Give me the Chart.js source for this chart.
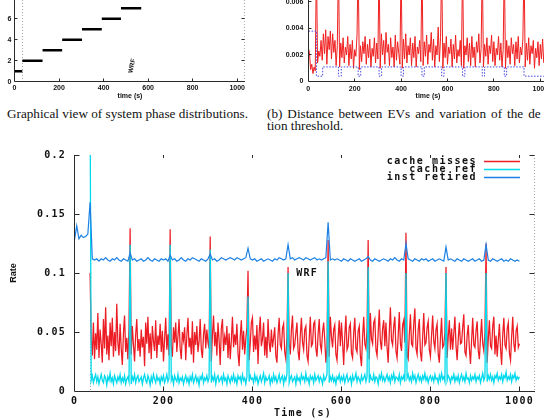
<!DOCTYPE html>
<html>
<head>
<meta charset="utf-8">
<script src="https://cdn.jsdelivr.net/npm/chart.js@4.4.1/dist/chart.umd.min.js"></script>
<style>
  html, body { margin: 0; padding: 0; background: #fff; }
  body { width: 544px; height: 419px; overflow: hidden; position: relative; }
  .box { position: absolute; }
  .cap { position: absolute; font-family: "Liberation Serif", "DejaVu Serif", serif; font-size: 13.2px; line-height: 12.5px; white-space: nowrap; color: #111; }
</style>
</head>
<body>
<div class="box" style="left:0;top:0;width:272px;height:105px"><canvas id="phaseChart"></canvas></div>
<div class="box" style="left:272px;top:0;width:290px;height:105px"><canvas id="distChart"></canvas></div>
<div class="box" style="left:0;top:140px;width:544px;height:279px"><canvas id="rateChart"></canvas></div>
<div class="cap" style="left:7px;top:107.5px">Graphical view of system phase distributions.</div>
<div class="cap" style="left:267px;top:107.5px"><span style="word-spacing:1.7px">(b) Distance between EVs and variation of the de</span><br>tion threshold.</div>

<script>
// seconds between two samples
const fineStep = 2.5;   // cache misses / cache ref
const coarseStep = 5;   // inst retired, EV distance

// (a) system phases
const phaseStart = [0, 35, 126, 214, 303, 392, 478, 569, 661, 746, 836, 924];
const phaseEnd   = [35, 126, 214, 303, 392, 478, 569, 661, 746, 836, 924, 1000];
const phaseLevel = [1, 2, 3, 4, 5, 6, 7, 8, 9, 10, 11, 12];

// (b) distance between EVs, t = 0..1015
const evDistance = [
  0.0025, 0.0022, 0.0009, 0.0013, 0.0006, 0.0011, 0.0008, 0.0090, 0.0014, 0.0023,
  0.0019, 0.0031, 0.0016, 0.0036, 0.0021, 0.0039, 0.0013, 0.0034, 0.0024, 0.0038,
  0.0017, 0.0036, 0.0022, 0.0031, 0.0012, 0.0027, 0.0090, 0.0011, 0.0029, 0.0018,
  0.0033, 0.0014, 0.0026, 0.0020, 0.0034, 0.0012, 0.0028, 0.0017, 0.0031, 0.0010,
  0.0024, 0.0019, 0.0035, 0.0090, 0.0009, 0.0027, 0.0015, 0.0030, 0.0021, 0.0034,
  0.0013, 0.0028, 0.0018, 0.0032, 0.0011, 0.0025, 0.0019, 0.0033, 0.0014, 0.0029,
  0.0017, 0.0090, 0.0010, 0.0036, 0.0020, 0.0031, 0.0013, 0.0037, 0.0022, 0.0028,
  0.0012, 0.0033, 0.0018, 0.0026, 0.0011, 0.0035, 0.0016, 0.0030, 0.0021, 0.0013,
  0.0090, 0.0010, 0.0032, 0.0017, 0.0036, 0.0014, 0.0027, 0.0020, 0.0033, 0.0012,
  0.0029, 0.0018, 0.0034, 0.0011, 0.0026, 0.0021, 0.0031, 0.0015, 0.0090, 0.0012,
  0.0030, 0.0019, 0.0035, 0.0013, 0.0028, 0.0022, 0.0037, 0.0016, 0.0032, 0.0011,
  0.0027, 0.0020, 0.0041, 0.0015, 0.0033, 0.0090, 0.0010, 0.0029, 0.0018, 0.0034,
  0.0013, 0.0026, 0.0021, 0.0032, 0.0011, 0.0028, 0.0017, 0.0035, 0.0014, 0.0024,
  0.0019, 0.0031, 0.0012, 0.0090, 0.0010, 0.0027, 0.0020, 0.0033, 0.0015, 0.0029,
  0.0012, 0.0034, 0.0018, 0.0026, 0.0011, 0.0030, 0.0022, 0.0036, 0.0014, 0.0025,
  0.0090, 0.0011, 0.0028, 0.0019, 0.0033, 0.0013, 0.0027, 0.0021, 0.0035, 0.0015,
  0.0030, 0.0012, 0.0025, 0.0020, 0.0034, 0.0016, 0.0029, 0.0011, 0.0024, 0.0090,
  0.0010, 0.0031, 0.0018, 0.0027, 0.0013, 0.0033, 0.0021, 0.0028, 0.0012, 0.0030,
  0.0017, 0.0034, 0.0014, 0.0026, 0.0020, 0.0032, 0.0090, 0.0011, 0.0029, 0.0016,
  0.0033, 0.0013, 0.0027, 0.0021, 0.0031, 0.0010, 0.0025, 0.0018, 0.0030, 0.0012,
  0.0028, 0.0017, 0.0032, 0.0014
];
// (b) detection threshold (step)
const thresholdTime  = [0, 35, 62, 130, 142, 215, 226, 305, 316, 400, 410, 490, 500, 575, 585, 665, 675, 750, 760, 845, 855, 930, 942, 1015];
const thresholdValue = [0.0002, 0.0038, 0.0004, 0.0011, 0.0004, 0.0011, 0.0004, 0.0011, 0.0004, 0.0011, 0.0004, 0.0011,
                        0.0004, 0.0011, 0.0004, 0.0011, 0.0004, 0.0011, 0.0004, 0.0011, 0.0004, 0.0011, 0.0004, 0.0004];

// main figure: cache misses, t = 0..1000 every 2.5 s (20 per row = 50 s)
const cacheMisses = [
  null, null, null, null, null, null, null, null, null, null, null, null, null, null, 0.100, 0.045, 0.030, 0.058, 0.027, 0.049,
  0.035, 0.066, 0.028, 0.052, 0.040, 0.024, 0.061, 0.036, 0.071, 0.031, 0.047, 0.026, 0.058, 0.038, 0.062, 0.029, 0.050, 0.034, 0.074, 0.041,
  0.030, 0.057, 0.036, 0.022, 0.049, 0.064, 0.033, 0.045, 0.027, 0.053, 0.138, 0.031, 0.055, 0.039, 0.025, 0.048, 0.061, 0.034, 0.044, 0.029,
  0.052, 0.037, 0.046, 0.021, 0.058, 0.040, 0.063, 0.032, 0.049, 0.027, 0.055, 0.042, 0.034, 0.060, 0.028, 0.047, 0.039, 0.057, 0.033, 0.051,
  0.025, 0.044, 0.062, 0.035, 0.048, 0.030, 0.137, 0.038, 0.029, 0.054, 0.041, 0.058, 0.033, 0.046, 0.061, 0.036, 0.027, 0.050, 0.043, 0.054,
  0.026, 0.047, 0.062, 0.037, 0.045, 0.031, 0.059, 0.024, 0.050, 0.039, 0.055, 0.033, 0.042, 0.061, 0.035, 0.028, 0.048, 0.057, 0.036, 0.052,
  0.041, 0.036, 0.131, 0.025, 0.047, 0.064, 0.038, 0.050, 0.030, 0.058, 0.043, 0.022, 0.053, 0.061, 0.034, 0.046, 0.039, 0.055, 0.028, 0.049,
  0.027, 0.043, 0.063, 0.037, 0.048, 0.039, 0.057, 0.032, 0.021, 0.046, 0.060, 0.035, 0.051, 0.031, 0.044, 0.054, 0.102, 0.026, 0.040, 0.058,
  0.062, 0.033, 0.047, 0.035, 0.056, 0.023, 0.049, 0.063, 0.038, 0.044, 0.058, 0.030, 0.046, 0.028, 0.061, 0.041, 0.033, 0.052, 0.037, 0.045,
  0.054, 0.030, 0.024, 0.048, 0.062, 0.039, 0.036, 0.053, 0.057, 0.033, 0.027, 0.046, 0.105, 0.040, 0.031, 0.052, 0.064, 0.036, 0.039, 0.049,
  0.058, 0.034, 0.026, 0.047, 0.062, 0.041, 0.035, 0.052, 0.055, 0.030, 0.025, 0.044, 0.063, 0.038, 0.040, 0.057, 0.059, 0.036, 0.029, 0.048,
  0.061, 0.039, 0.034, 0.050, 0.058, 0.043, 0.024, 0.037, 0.128, 0.029, 0.063, 0.046, 0.037, 0.052, 0.056, 0.031, 0.026, 0.045, 0.060, 0.038,
  0.058, 0.041, 0.022, 0.047, 0.064, 0.035, 0.038, 0.054, 0.057, 0.032, 0.028, 0.049, 0.062, 0.036, 0.033, 0.051, 0.055, 0.030, 0.021, 0.046,
  0.063, 0.040, 0.036, 0.052, 0.128, 0.027, 0.066, 0.044, 0.040, 0.058, 0.061, 0.035, 0.030, 0.049, 0.069, 0.042, 0.035, 0.053, 0.060, 0.038,
  0.058, 0.037, 0.024, 0.050, 0.071, 0.043, 0.039, 0.055, 0.063, 0.034, 0.028, 0.047, 0.067, 0.040, 0.034, 0.056, 0.060, 0.041, 0.134, 0.030,
  0.027, 0.048, 0.065, 0.040, 0.038, 0.057, 0.070, 0.036, 0.031, 0.052, 0.061, 0.033, 0.025, 0.046, 0.066, 0.039, 0.041, 0.054, 0.059, 0.035,
  0.029, 0.047, 0.064, 0.042, 0.036, 0.052, 0.057, 0.031, 0.024, 0.045, 0.062, 0.037, 0.039, 0.050, 0.105, 0.028, 0.046, 0.060, 0.035, 0.053,
  0.035, 0.049, 0.063, 0.038, 0.026, 0.044, 0.058, 0.040, 0.041, 0.054, 0.065, 0.033, 0.030, 0.047, 0.056, 0.036, 0.023, 0.043, 0.062, 0.039,
  0.037, 0.051, 0.059, 0.034, 0.027, 0.045, 0.061, 0.040, 0.034, 0.050, 0.125, 0.024, 0.044, 0.060, 0.038, 0.036, 0.055, 0.063, 0.031, 0.047,
  0.029, 0.043, 0.057, 0.036, 0.022, 0.048, 0.062, 0.039, 0.036, 0.053, 0.058, 0.032, 0.026, 0.046, 0.063, 0.040, 0.033, 0.051, 0.055, 0.037,
  0.040
];
// main figure: cache ref, same sampling
const cacheRef = [
  null, null, null, null, null, null, null, null, null, null, null, null, null, null, 0.250, 0.009, 0.013, 0.007, 0.011, 0.014,
  0.008, 0.012, 0.006, 0.010, 0.014, 0.009, 0.007, 0.013, 0.011, 0.005, 0.012, 0.009, 0.015, 0.008, 0.011, 0.006, 0.013, 0.010, 0.007, 0.012,
  0.009, 0.014, 0.007, 0.011, 0.008, 0.013, 0.006, 0.010, 0.012, 0.008, 0.124, 0.006, 0.012, 0.009, 0.014, 0.007, 0.011, 0.013, 0.008, 0.010,
  0.012, 0.006, 0.011, 0.014, 0.009, 0.007, 0.013, 0.010, 0.005, 0.012, 0.008, 0.014, 0.010, 0.007, 0.013, 0.009, 0.011, 0.006, 0.012, 0.009,
  0.013, 0.007, 0.010, 0.014, 0.008, 0.011, 0.124, 0.009, 0.012, 0.006, 0.013, 0.010, 0.008, 0.014, 0.007, 0.011, 0.009, 0.012, 0.006, 0.010,
  0.013, 0.008, 0.011, 0.006, 0.012, 0.009, 0.014, 0.007, 0.010, 0.013, 0.008, 0.011, 0.005, 0.012, 0.010, 0.014, 0.007, 0.011, 0.009, 0.013,
  0.008, 0.011, 0.120, 0.007, 0.012, 0.009, 0.014, 0.006, 0.011, 0.013, 0.008, 0.010, 0.012, 0.007, 0.014, 0.009, 0.011, 0.006, 0.013, 0.010,
  0.007, 0.012, 0.009, 0.014, 0.008, 0.011, 0.006, 0.013, 0.010, 0.012, 0.007, 0.014, 0.009, 0.011, 0.006, 0.012, 0.080, 0.008, 0.013, 0.010,
  0.011, 0.007, 0.014, 0.009, 0.012, 0.006, 0.010, 0.013, 0.008, 0.011, 0.015, 0.007, 0.012, 0.009, 0.010, 0.013, 0.006, 0.011, 0.008, 0.014,
  0.009, 0.012, 0.007, 0.010, 0.014, 0.008, 0.011, 0.013, 0.006, 0.012, 0.009, 0.014, 0.100, 0.007, 0.011, 0.013, 0.008, 0.010, 0.012, 0.006,
  0.013, 0.009, 0.011, 0.007, 0.014, 0.010, 0.012, 0.008, 0.015, 0.009, 0.011, 0.006, 0.013, 0.010, 0.012, 0.007, 0.014, 0.009, 0.011, 0.013,
  0.008, 0.012, 0.010, 0.006, 0.013, 0.009, 0.011, 0.014, 0.110, 0.007, 0.012, 0.009, 0.013, 0.008, 0.011, 0.006, 0.012, 0.010, 0.014, 0.008,
  0.012, 0.009, 0.013, 0.007, 0.011, 0.014, 0.008, 0.010, 0.012, 0.006, 0.013, 0.009, 0.011, 0.015, 0.008, 0.012, 0.010, 0.007, 0.013, 0.009,
  0.011, 0.014, 0.008, 0.012, 0.105, 0.007, 0.013, 0.010, 0.009, 0.014, 0.008, 0.012, 0.011, 0.006, 0.013, 0.010, 0.015, 0.009, 0.012, 0.008,
  0.011, 0.014, 0.009, 0.012, 0.007, 0.013, 0.010, 0.015, 0.008, 0.012, 0.011, 0.009, 0.014, 0.007, 0.012, 0.010, 0.013, 0.008, 0.100, 0.011,
  0.014, 0.009, 0.012, 0.008, 0.015, 0.010, 0.013, 0.007, 0.011, 0.014, 0.009, 0.012, 0.008, 0.013, 0.010, 0.015, 0.009, 0.012, 0.007, 0.011,
  0.013, 0.009, 0.012, 0.008, 0.014, 0.010, 0.011, 0.007, 0.013, 0.009, 0.015, 0.010, 0.012, 0.008, 0.100, 0.009, 0.013, 0.011, 0.007, 0.012,
  0.010, 0.014, 0.008, 0.012, 0.009, 0.013, 0.007, 0.011, 0.014, 0.009, 0.012, 0.008, 0.015, 0.010, 0.011, 0.007, 0.013, 0.009, 0.012, 0.010,
  0.014, 0.008, 0.012, 0.010, 0.013, 0.007, 0.011, 0.015, 0.009, 0.012, 0.100, 0.008, 0.013, 0.010, 0.014, 0.009, 0.012, 0.007, 0.013, 0.011,
  0.015, 0.009, 0.012, 0.010, 0.014, 0.008, 0.013, 0.011, 0.016, 0.009, 0.012, 0.010, 0.014, 0.008, 0.013, 0.011, 0.015, 0.009, 0.012, 0.010,
  0.012
];
// main figure: inst retired, t = 0..1000 every 5 s
const instRetired = [
  0.128, 0.140, 0.129, 0.132, 0.130, 0.131, 0.133, 0.160, 0.112, 0.111,
  0.112, 0.110, 0.112, 0.111, 0.113, 0.111, 0.110, 0.112, 0.111, 0.113,
  0.111, 0.110, 0.112, 0.111, 0.110, 0.117, 0.111, 0.112, 0.110, 0.111,
  0.112, 0.110, 0.111, 0.113, 0.111, 0.110, 0.112, 0.111, 0.110, 0.112,
  0.111, 0.112, 0.110, 0.115, 0.111, 0.112, 0.110, 0.111, 0.113, 0.111,
  0.110, 0.112, 0.111, 0.113, 0.112, 0.111, 0.110, 0.112, 0.111, 0.110,
  0.112, 0.116, 0.111, 0.112, 0.110, 0.111, 0.113, 0.112, 0.111, 0.112,
  0.113, 0.112, 0.111, 0.113, 0.112, 0.111, 0.112, 0.113, 0.121, 0.112,
  0.111, 0.112, 0.110, 0.111, 0.112, 0.110, 0.111, 0.112, 0.111, 0.110,
  0.112, 0.111, 0.113, 0.112, 0.111, 0.112, 0.124, 0.112, 0.113, 0.111,
  0.112, 0.113, 0.112, 0.111, 0.113, 0.112, 0.111, 0.112, 0.113, 0.111,
  0.112, 0.111, 0.112, 0.113, 0.143, 0.111, 0.112, 0.111, 0.112, 0.111,
  0.110, 0.112, 0.111, 0.110, 0.112, 0.111, 0.110, 0.111, 0.112, 0.110,
  0.111, 0.112, 0.114, 0.111, 0.110, 0.112, 0.111, 0.110, 0.111, 0.112,
  0.111, 0.110, 0.112, 0.111, 0.113, 0.111, 0.110, 0.112, 0.111, 0.125,
  0.112, 0.111, 0.110, 0.112, 0.111, 0.110, 0.112, 0.111, 0.112, 0.110,
  0.111, 0.112, 0.110, 0.111, 0.112, 0.111, 0.110, 0.122, 0.111, 0.112,
  0.111, 0.110, 0.112, 0.111, 0.110, 0.112, 0.111, 0.110, 0.111, 0.112,
  0.110, 0.111, 0.112, 0.110, 0.111, 0.124, 0.111, 0.110, 0.112, 0.111,
  0.110, 0.111, 0.112, 0.110, 0.111, 0.110, 0.112, 0.111, 0.110, 0.111,
  0.110
];

const timeTicks  = [0, 200, 400, 600, 800, 1000];
const phaseTicks = [0, 2, 4, 6];
const distTicks  = [0, 0.002, 0.004, 0.006];
const rateTicks  = [0, 0.05, 0.1, 0.15, 0.2];
const rateNames  = ['cache misses', 'cache ref', 'inst retired'];
const rateColors = ['rgb(236,28,36)', 'rgb(0,218,236)', 'rgb(28,128,228)'];

function toPoints(values, step) {
  return values.map(function (v, i) { return { x: i * step, y: v }; });
}

function phasePoints() {
  const pts = [];
  phaseLevel.forEach(function (lv, i) {
    pts.push({ x: phaseStart[i], y: lv }, { x: phaseEnd[i], y: lv }, { x: phaseEnd[i], y: null });
  });
  return pts;
}

function setTicks(values) {
  return function (scale) { scale.ticks = values.map(function (v) { return { value: v }; }); };
}

// keep the axis boxes at a fixed size so the plot frame lands where it should
function fixBox(size) {
  return function (scale) {
    if (scale.isHorizontal()) scale.height = size; else scale.width = size;
    scale.paddingTop = scale.paddingBottom = scale.paddingLeft = scale.paddingRight = 0;
  };
}

// gnuplot-like frame: solid left/bottom, inward ticks, dotted marks
const gnuFrame = {
  id: 'gnuFrame',
  beforeDatasetsDraw(chart, args, o) {
    const { ctx, chartArea: a, scales: { x } } = chart;
    ctx.save();
    ctx.strokeStyle = 'rgba(80,80,80,0.5)';
    ctx.lineWidth = 1;
    ctx.setLineDash([1, 2]);
    (o.marks || []).forEach(function (t) {
      const px = Math.floor(x.getPixelForValue(t)) + 0.5;
      ctx.beginPath(); ctx.moveTo(px, a.top); ctx.lineTo(px, a.bottom); ctx.stroke();
    });
    if (o.rightDotted) {
      const px = Math.floor(a.right) - 0.5;
      ctx.beginPath(); ctx.moveTo(px, a.top); ctx.lineTo(px, a.bottom); ctx.stroke();
    }
    ctx.restore();
  },
  afterDatasetsDraw(chart, args, o) {
    const { ctx, chartArea: a, scales: { x, y } } = chart;
    const len = o.tickLen || 5;
    const L = Math.floor(a.left) + 0.5;
    const B = Math.floor(a.bottom) + 0.5;
    const R = Math.floor(a.right) - 0.5;
    ctx.save();
    ctx.strokeStyle = '#2a2a2a';
    ctx.lineWidth = 1;
    ctx.beginPath();
    ctx.moveTo(L, a.top); ctx.lineTo(L, B); ctx.lineTo(R + 0.5, B);
    x.ticks.forEach(function (t) {
      if (t.value === x.min) return;
      const px = Math.floor(x.getPixelForValue(t.value)) + 0.5;
      ctx.moveTo(px, B); ctx.lineTo(px, B - len);
      if (o.topTicks) { ctx.moveTo(px, a.top); ctx.lineTo(px, a.top + len - 2); }
    });
    y.ticks.forEach(function (t) {
      if (t.value === y.min) return;
      const py = Math.floor(y.getPixelForValue(t.value)) + 0.5;
      ctx.moveTo(L, py); ctx.lineTo(L + len, py);
      if (o.rightTicks) { ctx.moveTo(R, py); ctx.lineTo(R - len, py); }
    });
    ctx.stroke();
    ctx.restore();
  }
};

const smallFont = { family: 'Liberation Sans', size: 7, weight: 'bold' };
const monoFont  = { family: 'DejaVu Sans Mono', size: 10, weight: 'bold' };

function baseOptions(pad, xMax, xBox, yMin, yMax, yBox, yTicks, font, xPad, yPad) {
  return {
    animation: false,
    responsive: true,
    maintainAspectRatio: false,
    devicePixelRatio: 1,
    layout: { padding: pad, autoPadding: false },
    elements: { point: { radius: 0 }, line: { tension: 0 } },
    plugins: { legend: { display: false }, tooltip: { enabled: false } },
    scales: {
      x: {
        type: 'linear', min: 0, max: xMax,
        afterBuildTicks: setTicks(timeTicks), afterFit: fixBox(xBox),
        grid: { display: false, drawTicks: false }, border: { display: false },
        ticks: { padding: xPad, font: font, color: '#111', autoSkip: false, maxRotation: 0,
                 callback: function (v) { return String(v); } }
      },
      y: {
        type: 'linear', min: yMin, max: yMax,
        afterBuildTicks: setTicks(yTicks), afterFit: fixBox(yBox),
        grid: { display: false, drawTicks: false }, border: { display: false },
        ticks: { padding: yPad, font: font, color: '#111', autoSkip: false,
                 callback: function (v) { return String(v); } }
      }
    }
  };
}

// ---------- (a) phases ----------
const phaseOpts = baseOptions({ top: 0, right: 27, bottom: 0, left: 0 }, 1035, 23.3, 0, 7.78, 14.5, phaseTicks, smallFont, 2, 3);
phaseOpts.plugins.gnuFrame = { tickLen: 3, rightTicks: true, rightDotted: true, marks: [35] };
new Chart(document.getElementById('phaseChart'), {
  type: 'line',
  data: { datasets: [{ data: phasePoints(), borderColor: '#000', borderWidth: 2.6, borderCapStyle: 'butt', spanGaps: false }] },
  options: phaseOpts,
  plugins: [gnuFrame, {
    id: 'phaseText',
    afterDraw(chart) {
      const ctx = chart.ctx;
      ctx.save();
      ctx.fillStyle = '#111';
      ctx.font = 'bold 7px "Liberation Sans"';
      ctx.textAlign = 'center';
      ctx.textBaseline = 'middle';
      ctx.fillText('time (s)', 130, 96.5);
      ctx.translate(132, 66);
      ctx.rotate(-1.35);
      ctx.font = 'bold 6.5px "Liberation Sans"';
      ctx.fillText('WRF', 0, 0);
      ctx.restore();
    }
  }]
});

// ---------- (b) distance ----------
const distOpts = baseOptions({ top: 0, right: 13.6, bottom: 0, left: 0 }, 1035, 23.5, 0, 0.00615, 36.3, distTicks, smallFont, 3, 5);
distOpts.plugins.gnuFrame = { tickLen: 3 };
new Chart(document.getElementById('distChart'), {
  type: 'line',
  data: { datasets: [
    { data: toPoints(evDistance, coarseStep), borderColor: 'rgb(240,32,32)', borderWidth: 1, order: 2 },
    { data: thresholdTime.map(function (t, i) { return { x: t, y: thresholdValue[i] }; }),
      borderColor: 'rgb(70,70,225)', borderWidth: 1, borderDash: [1.5, 1.5], stepped: 'after', order: 1 }
  ] },
  options: distOpts,
  plugins: [gnuFrame, {
    id: 'distText',
    afterDraw(chart) {
      const ctx = chart.ctx;
      ctx.save();
      ctx.fillStyle = '#111';
      ctx.font = 'bold 7px "Liberation Sans"';
      ctx.textAlign = 'center';
      ctx.textBaseline = 'middle';
      ctx.fillText('time (s)', 156, 96.5);
      ctx.restore();
    }
  }]
});

// ---------- main: rates ----------
const rateOpts = baseOptions({ top: 15, right: 9, bottom: 0, left: 0 }, 1035, 28, 0, 0.2, 74.5, rateTicks, monoFont, 4, 8.5);
rateOpts.plugins.gnuFrame = { tickLen: 5, topTicks: true, rightTicks: true, rightDotted: true, marks: [35] };
new Chart(document.getElementById('rateChart'), {
  type: 'line',
  data: { datasets: [
    { label: rateNames[0], data: toPoints(cacheMisses, fineStep), borderColor: rateColors[0], borderWidth: 1.25, order: 3 },
    { label: rateNames[1], data: toPoints(cacheRef, fineStep), borderColor: rateColors[1], borderWidth: 1.3, order: 2 },
    { label: rateNames[2], data: toPoints(instRetired, coarseStep), borderColor: rateColors[2], borderWidth: 1.2, order: 1 }
  ] },
  options: rateOpts,
  plugins: [gnuFrame, {
    id: 'rateText',
    beforeDraw(chart) { chart.ctx.letterSpacing = '1.2px'; },
    afterDraw(chart) {
      const ctx = chart.ctx;
      const { x, y } = chart.scales;
      ctx.save();
      // key samples, top right
      [21.7, 29.4, 37.2].forEach(function (ry, i) {
        ctx.strokeStyle = rateColors[i];
        ctx.lineWidth = 1.3;
        ctx.beginPath();
        ctx.moveTo(484, Math.floor(ry) + 0.5);
        ctx.lineTo(520, Math.floor(ry) + 0.5);
        ctx.stroke();
      });
      ctx.fillStyle = '#111';
      ctx.textBaseline = 'middle';
      ctx.font = 'bold 10px "DejaVu Sans Mono"';
      ctx.letterSpacing = '1.2px';
      ctx.textAlign = 'center';
      ctx.fillText('WRF', x.getPixelForValue(523), y.getPixelForValue(0.1));
      ctx.fillText('Time (s)', 303, 273);
      ctx.textAlign = 'right';
      ctx.letterSpacing = '1.5px';
      [21.7, 29.4, 37.2].forEach(function (ry, i) {
        ctx.fillText(rateNames[i], 477, ry);
      });
      ctx.letterSpacing = '0px';
      ctx.translate(14, 133);
      ctx.rotate(-Math.PI / 2);
      ctx.textAlign = 'center';
      ctx.font = 'bold 9px "Liberation Sans"';
      ctx.fillText('Rate', 0, 0);
      ctx.restore();
    }
  }]
});
</script>
</body>
</html>
